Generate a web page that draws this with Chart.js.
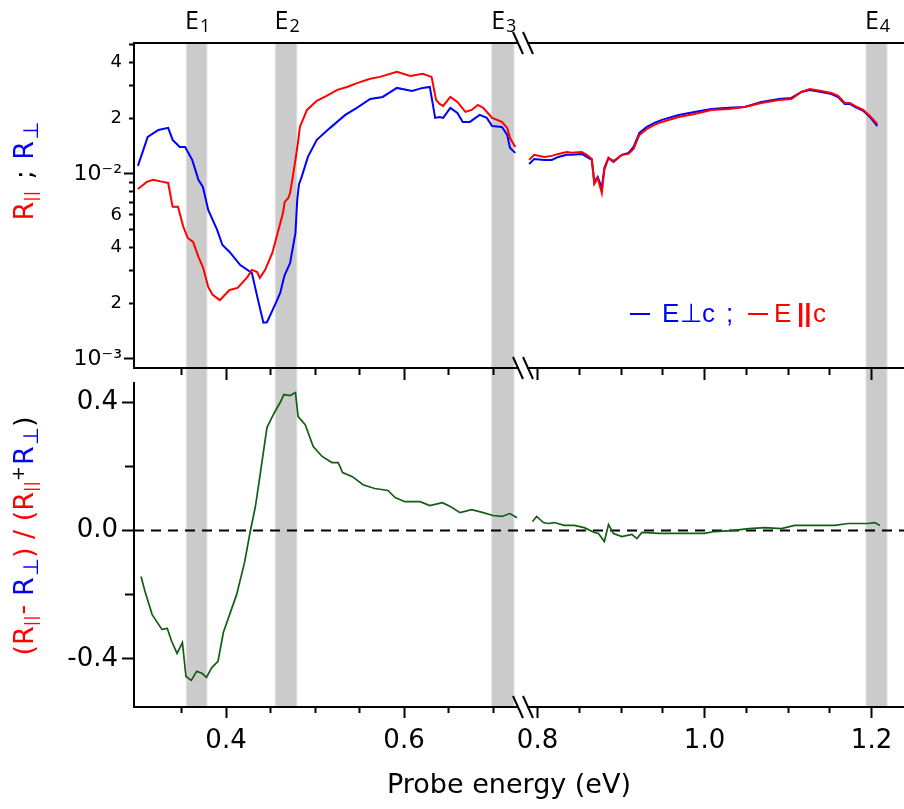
<!DOCTYPE html>
<html><head><meta charset="utf-8">
<script src="https://cdn.jsdelivr.net/npm/chart.js@4.4.1/dist/chart.umd.min.js"></script>
<style>
html,body{margin:0;padding:0;background:#fff;}
#wrap{position:relative;width:904px;height:809px;overflow:hidden;background:#fff;}
canvas{position:absolute;left:0;}
#topc{top:0;} #botc{top:381px;}
</style></head><body>
<div id="wrap"><canvas id="topc" width="904" height="381"></canvas><canvas id="botc" width="904" height="428"></canvas></div>
<script>
// ---------- data ----------
const eBlueL = [0.301,0.312,0.324,0.335,0.340,0.348,0.354,0.362,0.369,0.374,0.380,0.390,0.396,0.404,0.416,0.429,0.436,0.442,0.446,0.455,0.461,0.464,0.466,0.472,0.474,0.478,0.480,0.482,0.485,0.492,0.502,0.517,0.534,0.547,0.562,0.576,0.592,0.609,0.621,0.629,0.635,0.640,0.644,0.652,0.660,0.666,0.674,0.685,0.693,0.699,0.710,0.716,0.719,0.725];
const rBlueL = [0.01105,0.01585,0.01729,0.01774,0.01528,0.0140,0.0140,0.01191,0.00929,0.00851,0.00639,0.00498,0.00413,0.00379,0.00322,0.00292,0.00208,0.00157,0.00158,0.00196,0.00228,0.00262,0.00285,0.0033,0.00374,0.0048,0.00723,0.0088,0.00964,0.01236,0.01528,0.01774,0.02084,0.02276,0.02542,0.02606,0.02917,0.0281,0.02917,0.02952,0.02009,0.02032,0.02009,0.02276,0.02138,0.0191,0.0191,0.02084,0.02009,0.01816,0.01795,0.01625,0.01384,0.013];
const eRedL = [0.301,0.311,0.318,0.329,0.335,0.340,0.346,0.352,0.357,0.363,0.369,0.374,0.380,0.385,0.393,0.404,0.413,0.424,0.429,0.435,0.438,0.444,0.452,0.458,0.461,0.464,0.466,0.470,0.472,0.475,0.478,0.481,0.483,0.491,0.502,0.513,0.525,0.536,0.548,0.562,0.573,0.592,0.607,0.621,0.631,0.636,0.640,0.644,0.652,0.660,0.669,0.676,0.683,0.689,0.699,0.710,0.716,0.719,0.725];
const rRedL = [0.0083,0.00906,0.00929,0.00906,0.00894,0.00664,0.00664,0.00518,0.00451,0.00429,0.00356,0.00314,0.00245,0.00222,0.00208,0.00236,0.00242,0.00277,0.00303,0.00295,0.00274,0.00303,0.00374,0.0048,0.00543,0.00616,0.00706,0.00741,0.00789,0.00964,0.0119,0.0150,0.01795,0.02218,0.02483,0.02642,0.02845,0.02952,0.03105,0.03266,0.03345,0.03559,0.03388,0.03474,0.03345,0.02512,0.02389,0.02331,0.02606,0.02449,0.02163,0.02218,0.0236,0.02276,0.02009,0.0191,0.01774,0.01567,0.014];
const eRight = [0.790,0.796,0.808,0.817,0.825,0.835,0.841,0.853,0.859,0.865,0.868,0.872,0.877,0.880,0.885,0.891,0.901,0.909,0.915,0.922,0.931,0.940,0.949,0.969,0.988,1.008,1.029,1.048,1.068,1.089,1.104,1.116,1.126,1.140,1.152,1.160,1.168,1.174,1.180,1.190,1.198,1.207];
const rBlueR = [0.01132,0.01205,0.01191,0.01191,0.01236,0.01268,0.01268,0.01283,0.01236,0.01191,0.00906,0.00964,0.0084,0.01077,0.0122,0.0116,0.01268,0.013,0.014,0.01667,0.01795,0.01888,0.01959,0.02084,0.02163,0.02245,0.02276,0.02302,0.02449,0.02542,0.02574,0.02774,0.02845,0.02774,0.02704,0.02606,0.02389,0.02389,0.02302,0.02193,0.02032,0.01816];
const rRedR = [0.01191,0.01268,0.01236,0.01252,0.01283,0.01315,0.013,0.01315,0.01268,0.01205,0.00883,0.00951,0.00789,0.01051,0.0122,0.01175,0.01268,0.01283,0.01365,0.01625,0.0175,0.01841,0.0191,0.02032,0.02109,0.02218,0.02245,0.02302,0.0242,0.02512,0.02542,0.02774,0.02877,0.0281,0.02738,0.02642,0.0242,0.0242,0.02331,0.02218,0.02058,0.01862];
const eGreenL = [0.3045,0.309,0.317,0.322,0.328,0.334,0.339,0.345,0.351,0.355,0.361,0.367,0.373,0.378,0.384,0.391,0.397,0.404,0.412,0.421,0.427,0.433,0.438,0.446,0.452,0.458,0.461,0.465,0.472,0.474,0.478,0.481,0.489,0.498,0.508,0.519,0.526,0.531,0.542,0.554,0.567,0.582,0.590,0.601,0.618,0.629,0.643,0.652,0.663,0.676,0.689,0.700,0.710,0.719,0.727];
const dGreenL = [-0.143,-0.190,-0.262,-0.283,-0.308,-0.305,-0.346,-0.383,-0.349,-0.455,-0.467,-0.439,-0.445,-0.458,-0.427,-0.408,-0.318,-0.262,-0.199,-0.097,-0.006,0.075,0.168,0.321,0.355,0.386,0.40,0.424,0.421,0.424,0.430,0.355,0.330,0.262,0.231,0.212,0.212,0.181,0.168,0.143,0.131,0.125,0.103,0.090,0.090,0.078,0.087,0.075,0.056,0.065,0.056,0.047,0.044,0.053,0.040];
const eGreenR = [0.794,0.799,0.807,0.813,0.820,0.832,0.844,0.856,0.868,0.873,0.880,0.885,0.891,0.901,0.913,0.919,0.925,0.945,0.972,1.000,1.012,1.032,1.053,1.072,1.092,1.108,1.132,1.156,1.172,1.196,1.204,1.210];
const dGreenR = [0.028,0.044,0.025,0.022,0.025,0.016,0.016,0.009,-0.006,-0.009,-0.034,0.019,-0.009,-0.019,-0.012,-0.025,-0.006,-0.009,-0.009,-0.009,-0.003,0.000,0.006,0.009,0.006,0.016,0.016,0.016,0.022,0.022,0.025,0.016];

// axes / ticks
const xLeftRange = [0.2966, 0.7337];
const xRightRange = [0.7826, 1.2389];
const xTicksLeft = [0.35,0.4,0.45,0.5,0.55,0.6,0.65,0.7];
const xTicksRight = [0.8,0.85,0.9,0.95,1.0,1.05,1.1,1.15,1.2];
const yTopRange = [0.000894, 0.0510];
const yTopTicks = [0.001,0.002,0.003,0.004,0.005,0.006,0.007,0.008,0.009,0.01,0.02,0.03,0.04,0.05];
const yTopLabelVals = [0.001,0.002,0.004,0.006,0.01,0.02,0.04];
const yTopLabelText = ['10\u207B\u00B3','2','4','6','10\u207B\u00B2','2','4'];
const yBotRange = [-0.55, 0.46];
const yBotTicks = [-0.4,-0.2,0,0.2,0.4];
const bands = [[0.356,0.378],[0.456,0.479],[0.699,0.723],[1.194,1.218]];
const bandNames = ['1','2','3','4'];

// ---------- helpers ----------
const FONT = '"DejaVu Sans", sans-serif';
const pts = (xs, ys) => xs.map((x, i) => ({x: x, y: ys[i]}));
const near = (a, b) => Math.abs(a - b) < 1e-9;
const isMajorX = v => Math.abs(v * 5 - Math.round(v * 5)) < 1e-6;
const isDecade = v => Math.abs(Math.log10(v) - Math.round(Math.log10(v))) < 1e-6;
const isMajorYB = v => Math.abs(v * 2.5 - Math.round(v * 2.5)) < 1e-6;

function xAxis(range, ticks, weight, showLabels, height, majorLen, minorLen) {
  return {
    type: 'linear', position: 'bottom', stack: 'xs', stackWeight: weight,
    min: range[0], max: range[1],
    afterBuildTicks: s => { s.ticks = ticks.map(v => ({value: v})); },
    afterFit: s => { s.height = height; s.paddingLeft = 0; s.paddingRight = 0; },
    border: {display: true, color: '#000', width: 2},
    grid: {drawOnChartArea: false, drawTicks: true, tickLength: majorLen, tickColor: '#000', tickWidth: 2,
      tickBorderDash: c => (c.tick && isMajorX(c.tick.value)) ? [] : [minorLen, 200]},
    ticks: {display: showLabels, autoSkip: false, maxRotation: 0, minRotation: 0, padding: 8, color: '#000',
      font: {family: FONT, size: 26},
      callback: v => isMajorX(v) ? v.toFixed(1) : ''}
  };
}
function lineDs(xs, ys, color, w, xid) {
  return {data: pts(xs, ys), borderColor: color, borderWidth: w, pointRadius: 0, fill: false,
    tension: 0, xAxisID: xid, yAxisID: 'y'};
}
function bandScale(chart, b) { return b[0] < 0.76 ? chart.scales.xL : chart.scales.xR; }
function drawBands(chart, y0, y1) {
  const ctx = chart.ctx;
  ctx.save();
  bands.forEach(b => {
    const s = bandScale(chart, b);
    const a = s.getPixelForValue(b[0]), c = s.getPixelForValue(b[1]);
    ctx.fillStyle = '#e2e2e2';
    ctx.fillRect(a - 1, y0, c - a + 2, y1 - y0);
    ctx.fillStyle = '#cbcbcb';
    ctx.fillRect(a, y0, c - a, y1 - y0);
  });
  ctx.restore();
}
function breakMark(ctx, x, y) {
  ctx.save();
  ctx.fillStyle = '#fff';
  ctx.fillRect(x - 4, y - 2, 8, 4);
  ctx.strokeStyle = '#000'; ctx.lineWidth = 2;
  [-5, 5].forEach(dx => {
    ctx.beginPath(); ctx.moveTo(x + dx - 5, y - 11); ctx.lineTo(x + dx + 5, y + 11); ctx.stroke();
  });
  ctx.restore();
}
function rich(ctx, segs, cx, cy, rot) {
  ctx.save();
  ctx.translate(cx, cy); ctx.rotate(rot);
  ctx.textAlign = 'left'; ctx.textBaseline = 'alphabetic';
  let total = 0;
  segs.forEach(s => {
    ctx.font = s.size + 'px ' + (s.fam || FONT);
    s.w = ctx.measureText(s.t).width + (s.gap || 0);
    total += s.w;
  });
  let x = -total / 2;
  segs.forEach(s => {
    ctx.font = s.size + 'px ' + (s.fam || FONT);
    ctx.fillStyle = s.c;
    ctx.fillText(s.t, x, s.dy || 0);
    x += s.w;
  });
  ctx.restore();
}
const RED = '#ff0000', BLUE = '#0000ff', BLK = '#000';
const OPEN = '"Open Sans", sans-serif';

// ---------- top panel ----------
const topDeco = {
  id: 'topDeco',
  beforeDraw(chart) {
    drawBands(chart, chart.chartArea.top, chart.height);
  },
  afterDraw(chart) {
    const ctx = chart.ctx, a = chart.chartArea;
    ctx.save();
    ctx.strokeStyle = '#000'; ctx.lineWidth = 2;
    ctx.beginPath(); ctx.moveTo(a.left - 1, a.top); ctx.lineTo(a.right, a.top); ctx.stroke();
    ctx.restore();
    const xb = chart.scales.xL.right;
    breakMark(ctx, xb, a.top);
    breakMark(ctx, xb, a.bottom);
    // E labels
    bands.forEach((b, i) => {
      const s = bandScale(chart, b);
      const cx = (s.getPixelForValue(b[0]) + s.getPixelForValue(b[1])) / 2 + 1;
      rich(ctx, [{t: 'E', size: 25, c: BLK, fam: OPEN, gap: 1},
                 {t: bandNames[i], size: 18, c: BLK, dy: 3, fam: OPEN}], cx, 29, 0);
    });
    // y title
    rich(ctx, [
      {t: 'R', size: 27, c: RED},
      {t: '||', size: 16, c: RED, dy: 3, gap: 3},
      {t: ' ; ', size: 27, c: BLK, gap: 2},
      {t: 'R', size: 27, c: BLUE, gap: 1},
      {t: '\u22A5', size: 21, c: BLUE, dy: 5}
    ], 33, 171, -Math.PI / 2);
    // legend
    ctx.save();
    ctx.fillStyle = BLUE;
    ctx.fillRect(630, 313, 20, 2);
    ctx.font = '26px "Liberation Sans", sans-serif';
    ctx.textBaseline = 'alphabetic';
    ctx.fillText('E', 662, 322);
    ctx.font = '26px "DejaVu Sans", sans-serif';
    ctx.fillText('\u22A5', 680, 322);
    ctx.font = '26px "Liberation Sans", sans-serif';
    ctx.fillText('c', 702, 322);
    ctx.fillText(';', 726, 322);
    ctx.fillStyle = RED;
    ctx.fillRect(748, 313, 20, 2);
    ctx.fillText('E', 774, 322);
    ctx.font = 'bold 26px "Liberation Sans", sans-serif';
    ctx.fillText('||', 797, 322);
    ctx.font = '26px "Liberation Sans", sans-serif';
    ctx.fillText('c', 813, 322);
    ctx.restore();
  }
};

new Chart(document.getElementById('topc'), {
  type: 'line',
  data: {datasets: [
    lineDs(eRedL, rRedL, RED, 2, 'xL'),
    lineDs(eRight, rRedR, RED, 2, 'xR'),
    lineDs(eBlueL, rBlueL, BLUE, 2, 'xL'),
    lineDs(eRight, rBlueR, BLUE, 2, 'xR')
  ]},
  options: {
    responsive: false, animation: false, events: [],
    layout: {padding: {top: 43, left: 0, right: 0, bottom: 0}},
    plugins: {legend: {display: false}, tooltip: {enabled: false}},
    scales: {
      xL: xAxis(xLeftRange, xTicksLeft, 389, false, 13, 12, 6),
      xR: xAxis(xRightRange, xTicksRight, 381, false, 13, 12, 6),
      y: {
        type: 'logarithmic', position: 'left', min: yTopRange[0], max: yTopRange[1],
        afterBuildTicks: s => { s.ticks = yTopTicks.map(v => ({value: v})); },
        afterFit: s => { s.width = 134; s.paddingTop = 0; s.paddingBottom = 0; },
        border: {display: true, color: '#000', width: 2},
        grid: {drawOnChartArea: false, drawTicks: true, tickLength: 10, tickColor: '#000', tickWidth: 2,
          tickBorderDash: c => (c.tick && isDecade(c.tick.value)) ? [] : [0, 5, 5, 200]},
        ticks: {autoSkip: false, padding: 2, color: '#000',
          font: c => ({family: FONT, size: (c.tick && isDecade(c.tick.value)) ? 22 : 18}),
          callback: v => { const i = yTopLabelVals.findIndex(t => near(t, v)); return i < 0 ? '' : yTopLabelText[i]; }}
      }
    }
  },
  plugins: [topDeco]
});

// ---------- bottom panel ----------
const botDeco = {
  id: 'botDeco',
  beforeDraw(chart) {
    const a = chart.chartArea;
    drawBands(chart, 0, a.bottom);
    const y0 = chart.scales.y.getPixelForValue(0);
    const ctx = chart.ctx;
    ctx.save();
    ctx.strokeStyle = '#000'; ctx.lineWidth = 2; ctx.setLineDash([10, 7]);
    ctx.beginPath(); ctx.moveTo(a.left, y0); ctx.lineTo(a.right, y0); ctx.stroke();
    ctx.restore();
  },
  afterDraw(chart) {
    const ctx = chart.ctx, a = chart.chartArea;
    breakMark(ctx, chart.scales.xL.right, a.bottom);
    // x title
    ctx.save();
    ctx.font = '27px ' + FONT; ctx.fillStyle = '#000';
    ctx.textAlign = 'center'; ctx.textBaseline = 'alphabetic';
    ctx.fillText('Probe energy (eV)', 509, 412);
    ctx.restore();
    // y title
    rich(ctx, [
      {t: '(R', size: 27, c: RED},
      {t: '||', size: 16, c: RED, dy: 3, gap: 1},
      {t: '- ', size: 27, c: RED, dy: -2},
      {t: 'R', size: 27, c: BLUE, gap: 1},
      {t: '\u22A5', size: 21, c: BLUE, dy: 5},
      {t: ') / (R', size: 27, c: RED},
      {t: '||', size: 16, c: RED, dy: 3},
      {t: '+', size: 18, c: BLK, dy: -9, gap: 1},
      {t: 'R', size: 27, c: BLUE, gap: 1},
      {t: '\u22A5', size: 21, c: BLUE, dy: 5},
      {t: ')', size: 27, c: BLK}
    ], 33, 155, -Math.PI / 2);
  }
};

new Chart(document.getElementById('botc'), {
  type: 'line',
  data: {datasets: [
    lineDs(eGreenL, dGreenL, '#125e12', 1.7, 'xL'),
    lineDs(eGreenR, dGreenR, '#125e12', 1.7, 'xR')
  ]},
  options: {
    responsive: false, animation: false, events: [],
    layout: {padding: {top: 2, left: 0, right: 0, bottom: 0}},
    plugins: {legend: {display: false}, tooltip: {enabled: false}},
    scales: {
      xL: xAxis(xLeftRange, xTicksLeft, 389, true, 102, 11, 5),
      xR: xAxis(xRightRange, xTicksRight, 381, true, 102, 11, 5),
      y: {
        type: 'linear', position: 'left', min: yBotRange[0], max: yBotRange[1],
        afterBuildTicks: s => { s.ticks = yBotTicks.map(v => ({value: v})); },
        afterFit: s => { s.width = 134; s.paddingTop = 0; s.paddingBottom = 0; },
        border: {display: true, color: '#000', width: 2},
        grid: {drawOnChartArea: false, drawTicks: true, tickLength: 12, tickColor: '#000', tickWidth: 2,
          tickBorderDash: c => (c.tick && isMajorYB(c.tick.value)) ? [] : [0, 3, 9, 200]},
        ticks: {autoSkip: false, padding: 4, color: '#000', font: {family: FONT, size: 26},
          callback: v => isMajorYB(v) ? v.toFixed(1) : ''}
      }
    }
  },
  plugins: [botDeco]
});
</script>
</body></html>
